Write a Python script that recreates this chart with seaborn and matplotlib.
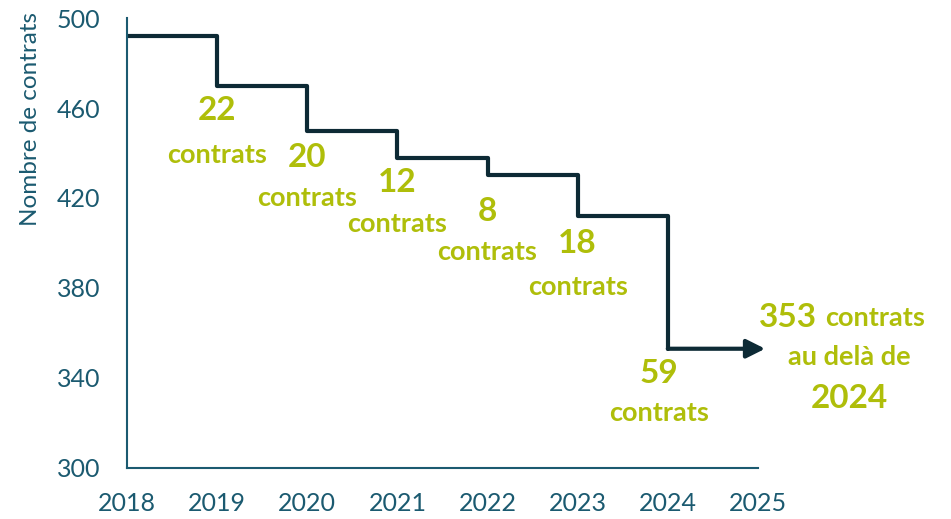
import matplotlib
matplotlib.use("Agg")
import matplotlib.pyplot as plt
import seaborn as sns
import pandas as pd

# données
annees = [2018, 2019, 2020, 2021, 2022, 2023, 2024]
contrats = [492, 470, 450, 438, 430, 412, 353]
baisses = ["22", "20", "12", "8", "18", "59"]
# positions des étiquettes (année, valeur du nombre, valeur de "contrats")
pos_x = [2019.0, 2020.0, 2021.0, 2022.0, 2023.0, 2023.9]
pos_num = [458.7, 438.2, 427.0, 413.8, 399.6, 342.2]
pos_txt = [439.1, 420.0, 408.4, 396.0, 380.4, 324.4]

sns.set_theme(style="white")
plt.rcParams['font.family'] = ['Lato', 'DejaVu Sans']

teal = '#1B5A70'
dark = '#0D2A35'
vert = '#AFBE0A'

df = pd.DataFrame({'annee': annees, 'contrats': contrats})

fig = plt.figure(figsize=(9.51, 5.19), dpi=100)
ax = fig.add_axes([0.1335, 0.0983, 0.797 - 0.1335, 0.9653 - 0.0983])

sns.lineplot(data=df, x='annee', y='contrats', drawstyle='steps-post',
             color=dark, linewidth=3, ax=ax)
ax.annotate('', xy=(2025.08, contrats[-1]), xytext=(annees[-1], contrats[-1]),
            arrowprops=dict(arrowstyle='-|>', color=dark, lw=3,
                            mutation_scale=28, shrinkA=0, shrinkB=0),
            annotation_clip=False)

for b, x, yn, yt in zip(baisses, pos_x, pos_num, pos_txt):
    ax.text(x, yn, b, ha='center', va='center', color=vert,
            fontsize=24, fontweight='bold')
    ax.text(x, yt, 'contrats', ha='center', va='center', color=vert,
            fontsize=19.5, fontweight='bold')

ax.text(2025.66, 366.7, '353', ha='right', va='center', color=vert,
        fontsize=24, fontweight='bold', clip_on=False)
ax.text(2025.74, 366.7, 'contrats', ha='left', va='center', color=vert,
        fontsize=19.5, fontweight='bold', clip_on=False)
ax.text(2026.01, 349.3, 'au delà de', ha='center', va='center', color=vert,
        fontsize=19.5, fontweight='bold', clip_on=False)
ax.text(2026.01, 331.1, '2024', ha='center', va='center', color=vert,
        fontsize=24, fontweight='bold', clip_on=False)

ax.set_xlim(2018, 2025)
ax.set_ylim(300, 500)
ax.set_xticks(range(2018, 2026))
ax.set_yticks([300, 340, 380, 420, 460, 500])
ax.tick_params(axis='both', length=0, labelsize=18, labelcolor=teal)
ax.tick_params(axis='x', pad=17)
ax.tick_params(axis='y', pad=19)
ax.set_xlabel('')
ax.set_ylabel('Nombre de contrats', fontsize=17.5, color=teal)
ax.yaxis.set_label_coords(-0.137, 0.776)

for s in ['top', 'right']:
    ax.spines[s].set_visible(False)
for s in ['left', 'bottom']:
    ax.spines[s].set_color(teal)
    ax.spines[s].set_linewidth(1.5)

fig.savefig('out.png', dpi=100)
